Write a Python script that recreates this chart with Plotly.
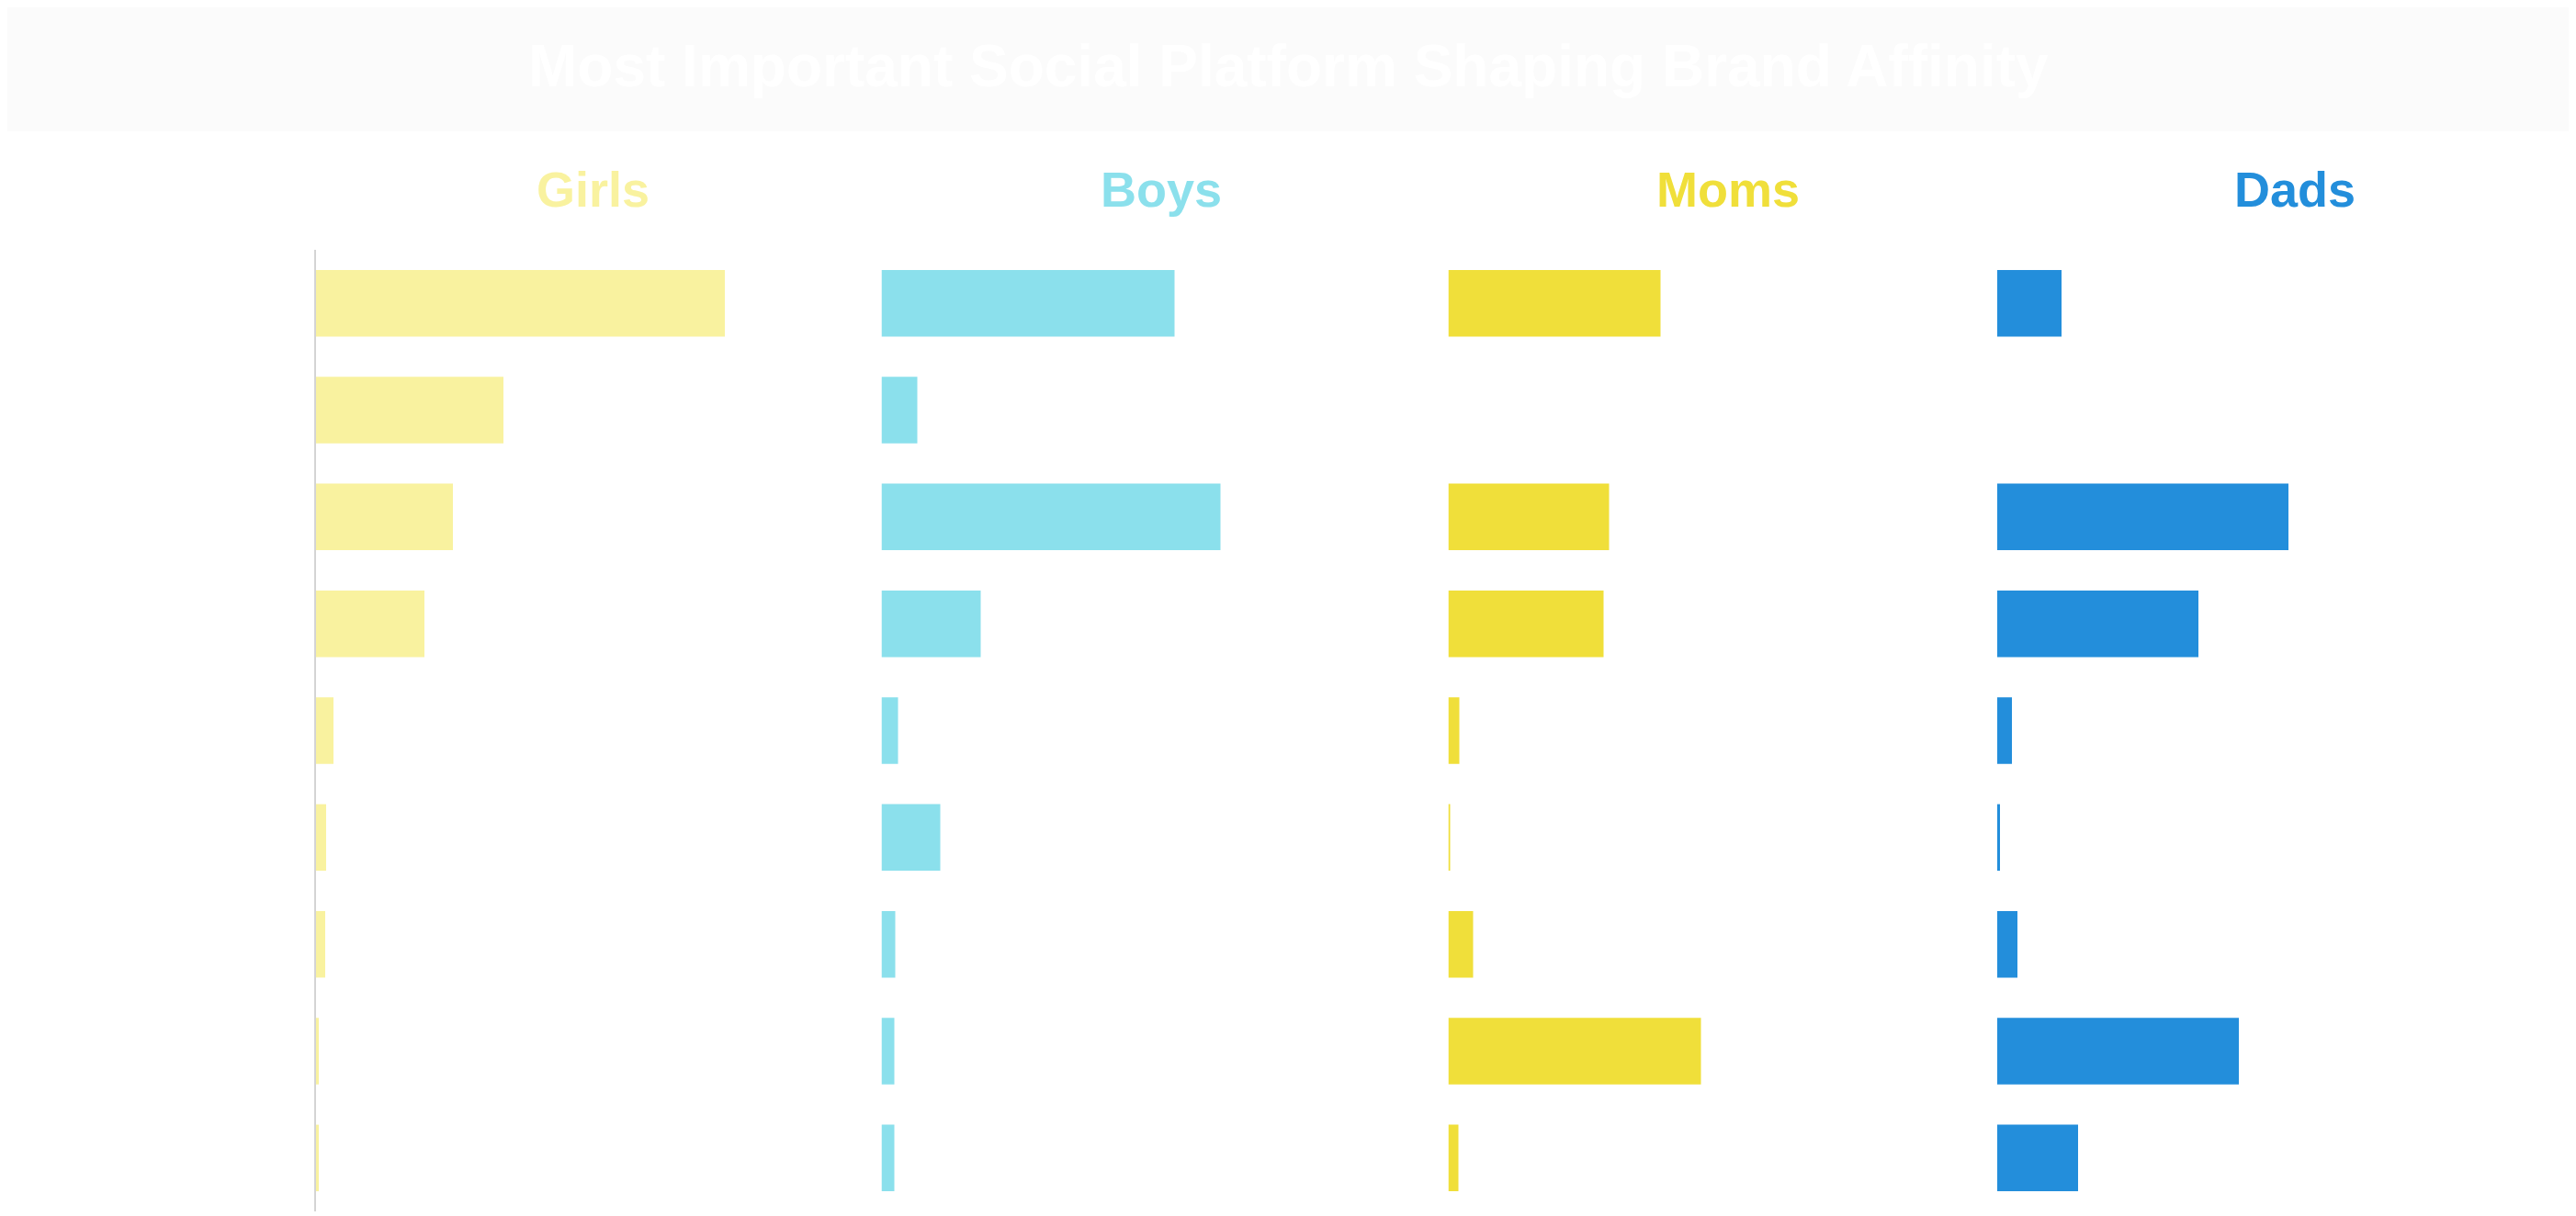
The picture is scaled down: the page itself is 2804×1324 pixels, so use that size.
import plotly.graph_objects as go

# ---- data (percent of each group naming the platform as most important) ----
categories = ["TikTok", "Snapchat", "YouTube", "Instagram", "Pinterest",
              "Discord", "Reddit", "Facebook", "X (Twitter)"]
groups = ["Girls", "Boys", "Moms", "Dads"]
girls = [44.5, 20.4, 14.9, 11.8, 1.9, 1.1, 1.0, 0.3, 0.3]
boys = [31.9, 3.9, 36.9, 10.8, 1.8, 6.4, 1.5, 1.4, 1.4]
moms = [23.1, 0.0, 17.5, 16.9, 1.2, 0.2, 2.7, 27.5, 1.1]
dads = [7.0, 0.0, 31.7, 21.9, 1.6, 0.3, 2.2, 26.3, 8.8]
series = [girls, boys, moms, dads]
title_text = "Most Important Social Platform Shaping Brand Affinity"

# ---- styling / layout ----
colors = ["#F9F29F", "#8BE0EC", "#F0DF3A", "#238EDB"]
OFF = 8                      # page body margin
W, H = 2804 - 2 * OFF, 1324 - OFF
starts_px = [344 - OFF, 959.5 - OFF, 1576.5 - OFF, 2174 - OFF]
panel_w = 550
x_range = [0, 55]
title_cx_px = [645 - OFF, 1264 - OFF, 1881 - OFF, 2498 - OFF]
y_top_px, y_bot_px = 272 - OFF, 1319 - OFF
ydom = [max(0.0, 1 - y_bot_px / H), 1 - y_top_px / H]
font_family = "Liberation Sans, Arial, Helvetica, sans-serif"

fig = go.Figure()
for i, (name, vals, col) in enumerate(zip(groups, series, colors)):
    sfx = "" if i == 0 else str(i + 1)
    fig.add_trace(go.Bar(
        x=vals, y=categories, orientation="h", name=name,
        marker=dict(color=col, line=dict(width=0)),
        xaxis="x" + sfx, yaxis="y" + sfx, showlegend=False,
    ))
    s = starts_px[i]
    fig.layout["xaxis" + sfx] = dict(
        domain=[s / W, (s + panel_w) / W], range=x_range, visible=False,
        anchor="y" + sfx, fixedrange=True,
    )
    ycfg = dict(
        domain=ydom, anchor="x" + sfx, type="category",
        categoryorder="array", categoryarray=categories,
        autorange="reversed", showgrid=False, zeroline=False,
        ticks="", automargin=False, fixedrange=True,
    )
    if i == 0:
        ycfg.update(showline=True, linecolor="#D4D4D4", linewidth=2,
                    showticklabels=True,
                    tickfont=dict(color="#FFFFFF", size=28, family=font_family))
    else:
        ycfg.update(showline=False, showticklabels=False, matches="y")
    fig.layout["yaxis" + sfx] = ycfg

    fig.add_annotation(
        x=title_cx_px[i] / W, y=1 - (206 - OFF) / H, xref="paper", yref="paper",
        text="<b>%s</b>" % name, showarrow=False, xanchor="center", yanchor="middle",
        font=dict(size=54, color=col, family=font_family),
    )

# title band
fig.add_shape(type="rect", xref="paper", yref="paper",
              x0=(6 - OFF) / W, x1=(2799 - OFF) / W,
              y0=1 - (143 - OFF) / H, y1=1 - (2 - OFF) / H,
              fillcolor="#FBFBFB", line=dict(width=0), layer="below")
fig.add_annotation(
    x=(1402 - OFF) / W, y=1 - (72 - OFF) / H, xref="paper", yref="paper",
    text="<b>%s</b>" % title_text, showarrow=False, xanchor="center", yanchor="middle",
    font=dict(size=64, color="#FFFFFF", family=font_family),
)

fig.update_layout(
    width=W, height=H, margin=dict(l=0, r=0, t=0, b=0, pad=0),
    paper_bgcolor="#FFFFFF", plot_bgcolor="#FFFFFF",
    bargap=0.377, showlegend=False,
    font=dict(family=font_family),
)

fig.write_html("out.html")
